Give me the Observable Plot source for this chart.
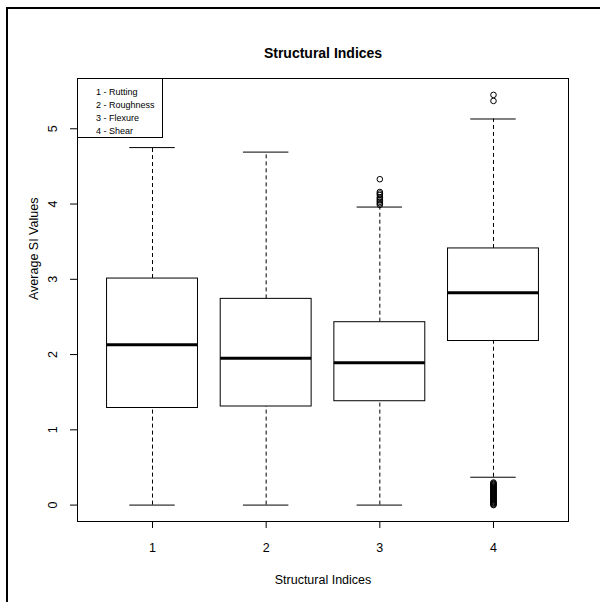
<!DOCTYPE html>
<html>
<head>
<meta charset="utf-8">
<script src="https://cdn.jsdelivr.net/npm/d3@7"></script>
<script src="https://cdn.jsdelivr.net/npm/@observablehq/plot@0.6"></script>
<style>
  html, body { margin: 0; padding: 0; background: #fff; }
  #wrap { position: relative; width: 600px; height: 602px; overflow: hidden; font-family: "Liberation Sans", Arial, sans-serif; }
  #outer { position: absolute; left: 6px; top: 7px; width: 620px; height: 620px; border-left: 2px solid #000; border-top: 2px solid #000; pointer-events: none; }
  #legend { position: absolute; left: 77px; top: 78px; width: 86px; height: 60px; border: 1px solid #000; background: #fff; box-sizing: border-box; font-size: 9px; line-height: 13px; padding: 7px 0 0 18px; color: #000; }
  svg { position: absolute; left: 0; top: 0; }
</style>
</head>
<body>
<div id="wrap">
  <div id="chart"></div>
  <div id="legend"></div>
  <div id="outer"></div>
</div>
<script>
// ---- data ----
const categories = [1, 2, 3, 4];
const legendLabels = ["1 - Rutting", "2 - Roughness", "3 - Flexure", "4 - Shear"];
const lowWhisker = [0, 0, 0, 0.37];
const q1 = [1.29, 1.31, 1.38, 2.18];
const median = [2.13, 1.95, 1.89, 2.82];
const q3 = [3.01, 2.74, 2.43, 3.41];
const highWhisker = [4.75, 4.69, 3.96, 5.13];
const outliers3 = [3.99, 4.01, 4.03, 4.05, 4.07, 4.09, 4.12, 4.14, 4.16, 4.33];
const outliers4High = [5.37, 5.45];
const outliers4Low = [0, 0.01, 0.02, 0.03, 0.04, 0.05, 0.06, 0.07, 0.08, 0.09, 0.1, 0.11, 0.12, 0.13, 0.14, 0.15, 0.16, 0.17, 0.18, 0.19, 0.2, 0.21, 0.22, 0.23, 0.24, 0.25, 0.26, 0.27, 0.28, 0.29, 0.3];
const yTicks = [0, 1, 2, 3, 4, 5];

const boxes = categories.map((c, i) => ({
  c, lo: lowWhisker[i], q1: q1[i], med: median[i], q3: q3[i], hi: highWhisker[i]
}));
const outliers = [
  ...outliers3.map(v => ({c: 3, v})),
  ...outliers4High.map(v => ({c: 4, v})),
  ...outliers4Low.map(v => ({c: 4, v}))
];
const halfBox = 0.4, halfCap = 0.2;

const chart = Plot.plot({
  width: 600,
  height: 602,
  marginLeft: 77,
  marginRight: 32,
  marginTop: 78,
  marginBottom: 81,
  style: {fontFamily: "Liberation Sans, Arial, sans-serif", fontSize: "12px", color: "#000", background: "transparent"},
  x: {domain: [0.34, 4.66], label: null},
  y: {domain: [-0.218, 5.668], label: null},
  marks: [
    // whiskers
    Plot.ruleX(boxes, {x: "c", y1: "q3", y2: "hi", stroke: "#000", strokeDasharray: "4,3"}),
    Plot.ruleX(boxes, {x: "c", y1: "lo", y2: "q1", stroke: "#000", strokeDasharray: "4,3"}),
    // caps
    Plot.ruleY(boxes, {y: "hi", x1: d => d.c - halfCap, x2: d => d.c + halfCap, stroke: "#000"}),
    Plot.ruleY(boxes, {y: "lo", x1: d => d.c - halfCap, x2: d => d.c + halfCap, stroke: "#000"}),
    // boxes
    Plot.rect(boxes, {x1: d => d.c - halfBox, x2: d => d.c + halfBox, y1: "q1", y2: "q3", fill: "#fff", stroke: "#000"}),
    // medians
    Plot.ruleY(boxes, {y: "med", x1: d => d.c - halfBox, x2: d => d.c + halfBox, stroke: "#000", strokeWidth: 3}),
    // outliers
    Plot.dot(outliers, {x: "c", y: "v", r: 2.8, stroke: "#000", fill: "none", strokeWidth: 1}),
    Plot.frame({stroke: "#000"}),
    Plot.axisX({ticks: categories, tickSize: 7, tickPadding: 15, tickFormat: d => String(d), fontSize: 12.5}),
    Plot.axisY({ticks: yTicks, tickSize: 7, tickRotate: -90, tickPadding: 14, tickFormat: d => String(d), fontSize: 12.5}),
    // titles
    Plot.text(["Structural Indices"], {frameAnchor: "top", dy: -30, fontWeight: "bold", fontSize: 14}),
    Plot.text(["Structural Indices"], {frameAnchor: "bottom", dy: 62, fontSize: 12.5}),
    Plot.text(["Average SI Values"], {frameAnchor: "left", dx: -44, rotate: -90, fontSize: 12.5})
  ]
});
document.getElementById("chart").appendChild(chart);
document.getElementById("legend").innerHTML = legendLabels.join("<br>");
</script>
</body>
</html>
